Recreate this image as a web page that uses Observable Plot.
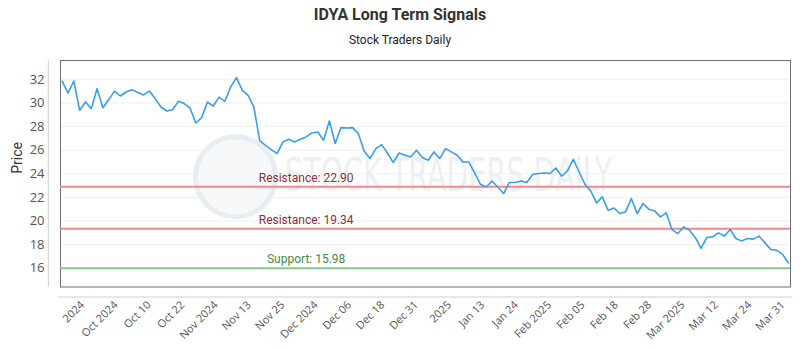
<!DOCTYPE html>
<html>
<head>
<meta charset="utf-8">
<script src="https://cdn.jsdelivr.net/npm/d3@7"></script>
<script src="https://cdn.jsdelivr.net/npm/@observablehq/plot@0.6"></script>
<style>
  body { margin: 0; background: #fff; }
  #wrap { width: 800px; height: 350px; position: relative; overflow: hidden; background: #fff; }
  #title { position: absolute; top: 5px; left: 0; width: 800px; text-align: center; font: bold 16px Roboto, sans-serif; line-height: 20px; color: #333; }
  #subtitle { position: absolute; top: 32px; left: 0; width: 800px; text-align: center; font: 12px Roboto, sans-serif; line-height: 16px; color: #222; }
  #chart { position: absolute; top: 50px; left: 0; }
</style>
</head>
<body>
<div id="wrap">
  <div id="title">IDYA Long Term Signals</div>
  <div id="subtitle">Stock Traders Daily</div>
  <div id="chart"></div>
</div>
<script>
// Daily closing prices (trading-day order)
const prices = [
  31.83, 30.84, 31.86, 29.38, 30.08, 29.52, 31.20, 29.60, 30.28, 31.00,
  30.59, 30.93, 31.13, 30.88, 30.68, 31.01, 30.37, 29.66, 29.32, 29.43,
  30.14, 29.95, 29.57, 28.30, 28.76, 30.08, 29.74, 30.50, 30.14, 31.35,
  32.15, 31.07, 30.65, 29.66, 26.80, 26.40, 26.05, 25.71, 26.70, 26.92,
  26.70, 26.92, 27.12, 27.46, 27.54, 26.84, 28.47, 26.56, 27.91, 27.88,
  27.91, 27.40, 25.90, 25.29, 26.13, 26.47, 25.76, 24.95, 25.76, 25.57,
  25.42, 25.99, 25.37, 25.15, 25.85, 25.29, 26.13, 25.85, 25.57, 25.00,
  25.00, 24.07, 23.11, 22.88, 23.39, 22.88, 22.32, 23.26, 23.26, 23.39,
  23.26, 23.93, 24.02, 24.07, 24.02, 24.49, 23.79, 24.24, 25.23, 24.15,
  23.11, 22.54, 21.53, 22.04, 20.91, 21.10, 20.63, 20.77, 21.90, 20.63,
  21.48, 21.00, 20.85, 20.34, 20.68, 19.27, 18.93, 19.50, 19.22, 18.60,
  17.67, 18.60, 18.65, 18.99, 18.71, 19.27, 18.51, 18.31, 18.51, 18.46,
  18.71, 18.14, 17.58, 17.52, 17.19, 16.45
];

// Signal levels
const levelNames  = ["Resistance", "Resistance", "Support"];
const levelValues = [22.90, 19.34, 15.98];
const levelKinds  = ["resistance", "resistance", "support"];

// X tick labels (evenly spaced along the trading-day axis)
const tickLabels = [
  "2024", "Oct 2024", "Oct 10", "Oct 22", "Nov 2024", "Nov 13", "Nov 25",
  "Dec 2024", "Dec 06", "Dec 18", "Dec 31", "2025", "Jan 13", "Jan 24",
  "Feb 2025", "Feb 05", "Feb 18", "Feb 28", "Mar 2025", "Mar 12", "Mar 24", "Mar 31"
];

// Y ticks
const yTicks = [16, 18, 20, 22, 24, 26, 28, 30, 32];

const watermarkText = "STOCK TRADERS DAILY";

(function () {
  const data = prices.map((p, i) => ({i, price: p}));
  const levels = levelValues.map((v, k) => ({
    value: v, kind: levelKinds[k],
    label: `${levelNames[k]}: ${v.toFixed(2)}`
  }));

  const n = prices.length;
  const firstTick = 3.5, lastTick = n - 1.9;
  const tickPos = tickLabels.map((_, k) => firstTick + k * (lastTick - firstTick) / (tickLabels.length - 1));
  const tickMap = new Map(tickPos.map((p, k) => [p, tickLabels[k]]));
  const labelIdx = Math.round(n / 3);

  const lineColor = {resistance: "#f08a8a", support: "#86c986"};
  const textColor = {resistance: "#8b3038", support: "#3f8a3f"};

  const chart = Plot.plot({
    width: 800,
    height: 300,
    marginTop: 10,
    marginBottom: 63.5,
    marginLeft: 60,
    marginRight: 10,
    style: {background: "transparent", fontFamily: "Roboto, sans-serif"},
    x: {type: "linear", domain: [-0.3, n - 1 + 0.4]},
    y: {domain: [14.4, 33.6]},
    marks: [
      Plot.gridY(yTicks, {stroke: "#efefef", strokeOpacity: 1}),
      // watermark
      Plot.dot([0], {frameAnchor: "middle", dx: -190, dy: 3, r: 40, stroke: "#e8edf2", strokeWidth: 5, fill: "#f6f8fa"}),
      Plot.text([watermarkText], {frameAnchor: "middle", dx: 23, dy: 3, fontSize: 46, fill: "#edf0f3", fontFamily: "DejaVu Sans Condensed, sans-serif"}),
      Plot.frame({stroke: "#6f6f6f"}),
      Plot.ruleY(levels, {y: "value", stroke: d => lineColor[d.kind], strokeWidth: 2}),
      Plot.text(levels, {x: () => labelIdx, y: "value", text: "label", fill: d => textColor[d.kind], dy: -9, fontSize: 12, textAnchor: "middle"}),
      Plot.line(data, {x: "i", y: "price", stroke: "#3a9ee4", strokeWidth: 1.6}),
      Plot.axisY({ticks: yTicks, tickSize: 0, tickPadding: 16, label: null, fontSize: 13, fill: "#555", fontFamily: "Open Sans, sans-serif"}),
      Plot.axisX({ticks: tickPos, tickFormat: d => tickMap.get(d), tickRotate: -45, tickSize: 0, tickPadding: 16, label: null, fontSize: 11, fill: "#555", fontFamily: "Open Sans, sans-serif"}),
      Plot.text(["Price"], {frameAnchor: "left", dx: -43, rotate: -90, fontSize: 14, fill: "#333"})
    ]
  });

  document.getElementById("chart").appendChild(chart);

  // squeeze watermark glyphs to the reference's narrow width
  d3.select(chart).selectAll("text")
    .filter(function () { return this.textContent === watermarkText; })
    .attr("textLength", 327).attr("lengthAdjust", "spacingAndGlyphs");

  // faint offset axis lines
  const xr = chart.scale("x").range, yr = chart.scale("y").range;
  const svg = d3.select(chart);
  const x0 = Math.min(...xr) - 1.7, x1 = Math.max(...xr) + 2.3;
  const y0 = Math.min(...yr), y1 = Math.max(...yr);
  svg.append("line").attr("x1", x0 - 10).attr("x2", x0 - 10).attr("y1", y0).attr("y2", y1)
    .attr("stroke", "#cfcfcf");
  svg.append("line").attr("x1", x0).attr("x2", x1).attr("y1", y1 + 10.5).attr("y2", y1 + 10.5)
    .attr("stroke", "#cfcfcf");
})();
</script>
</body>
</html>
